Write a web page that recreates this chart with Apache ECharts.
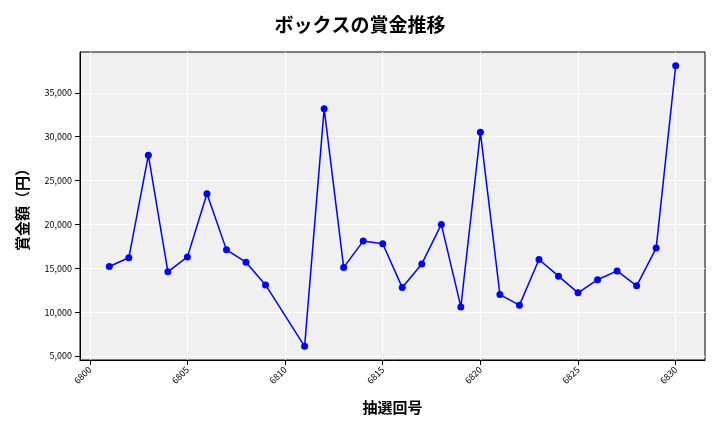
<!DOCTYPE html><html><head><meta charset="utf-8"><script src="https://cdn.jsdelivr.net/npm/echarts@6/dist/echarts.min.js"></script></head><body style="margin:0"><div id="c" style="width:720px;height:432px"></div><script>
const draws=[6801,6802,6803,6804,6805,6806,6807,6808,6809,6811,6812,6813,6814,6815,6816,6817,6818,6819,6820,6821,6822,6823,6824,6825,6826,6827,6828,6829,6830];
const prizes=[15200,16200,27900,14600,16300,23500,17100,15700,13100,6100,33200,15100,18100,17800,12800,15500,20000,10600,30500,12000,10800,16000,14100,12200,13700,14700,13000,17300,38100];
const xTicks=[6800,6805,6810,6815,6820,6825,6830];
const yTicks=[5000,10000,15000,20000,25000,30000,35000];
const f="'Noto Sans CJK JP'";
const ch=echarts.init(document.getElementById('c'));
ch.setOption({
title:{text:'ボックスの賞金推移',left:'center',top:10,textStyle:{fontFamily:f,fontSize:19,fontWeight:'bold',color:'#000'}},
grid:{left:80,right:15,top:52,bottom:72,show:true,backgroundColor:'#f0f0f0',borderColor:'#000',borderWidth:1},
xAxis:{type:'value',min:6799.5,max:6831.5,name:'抽選回号',nameLocation:'middle',nameGap:40,nameTextStyle:{fontFamily:f,fontSize:15,fontWeight:'bold',color:'#000'},
axisLine:{lineStyle:{color:'#000'}},axisTick:{customValues:xTicks,lineStyle:{color:'#000'}},
axisLabel:{customValues:xTicks,rotate:45,fontSize:9,color:'#000',fontFamily:f,formatter:v=>String(v)},
splitLine:{show:true,lineStyle:{color:'#fff',width:1}}},
yAxis:{type:'value',min:4544,max:39660,name:'賞金額（円）',nameLocation:'middle',nameGap:50,nameTextStyle:{fontFamily:f,fontSize:15,fontWeight:'bold',color:'#000'},
axisLine:{show:true,lineStyle:{color:'#000'}},axisTick:{show:true,customValues:yTicks,lineStyle:{color:'#000'}},
axisLabel:{customValues:yTicks,fontSize:9,color:'#000',fontFamily:f,formatter:v=>v.toLocaleString('en-US')},
splitLine:{show:true,lineStyle:{color:'#fff',width:1}}},
series:[{type:'line',data:draws.map((d,i)=>[d,prizes[i]]),color:'#0000ff',lineStyle:{width:1.5},symbol:'circle',symbolSize:7,itemStyle:{color:'#0000ff'}}]
});
</script></body></html>
